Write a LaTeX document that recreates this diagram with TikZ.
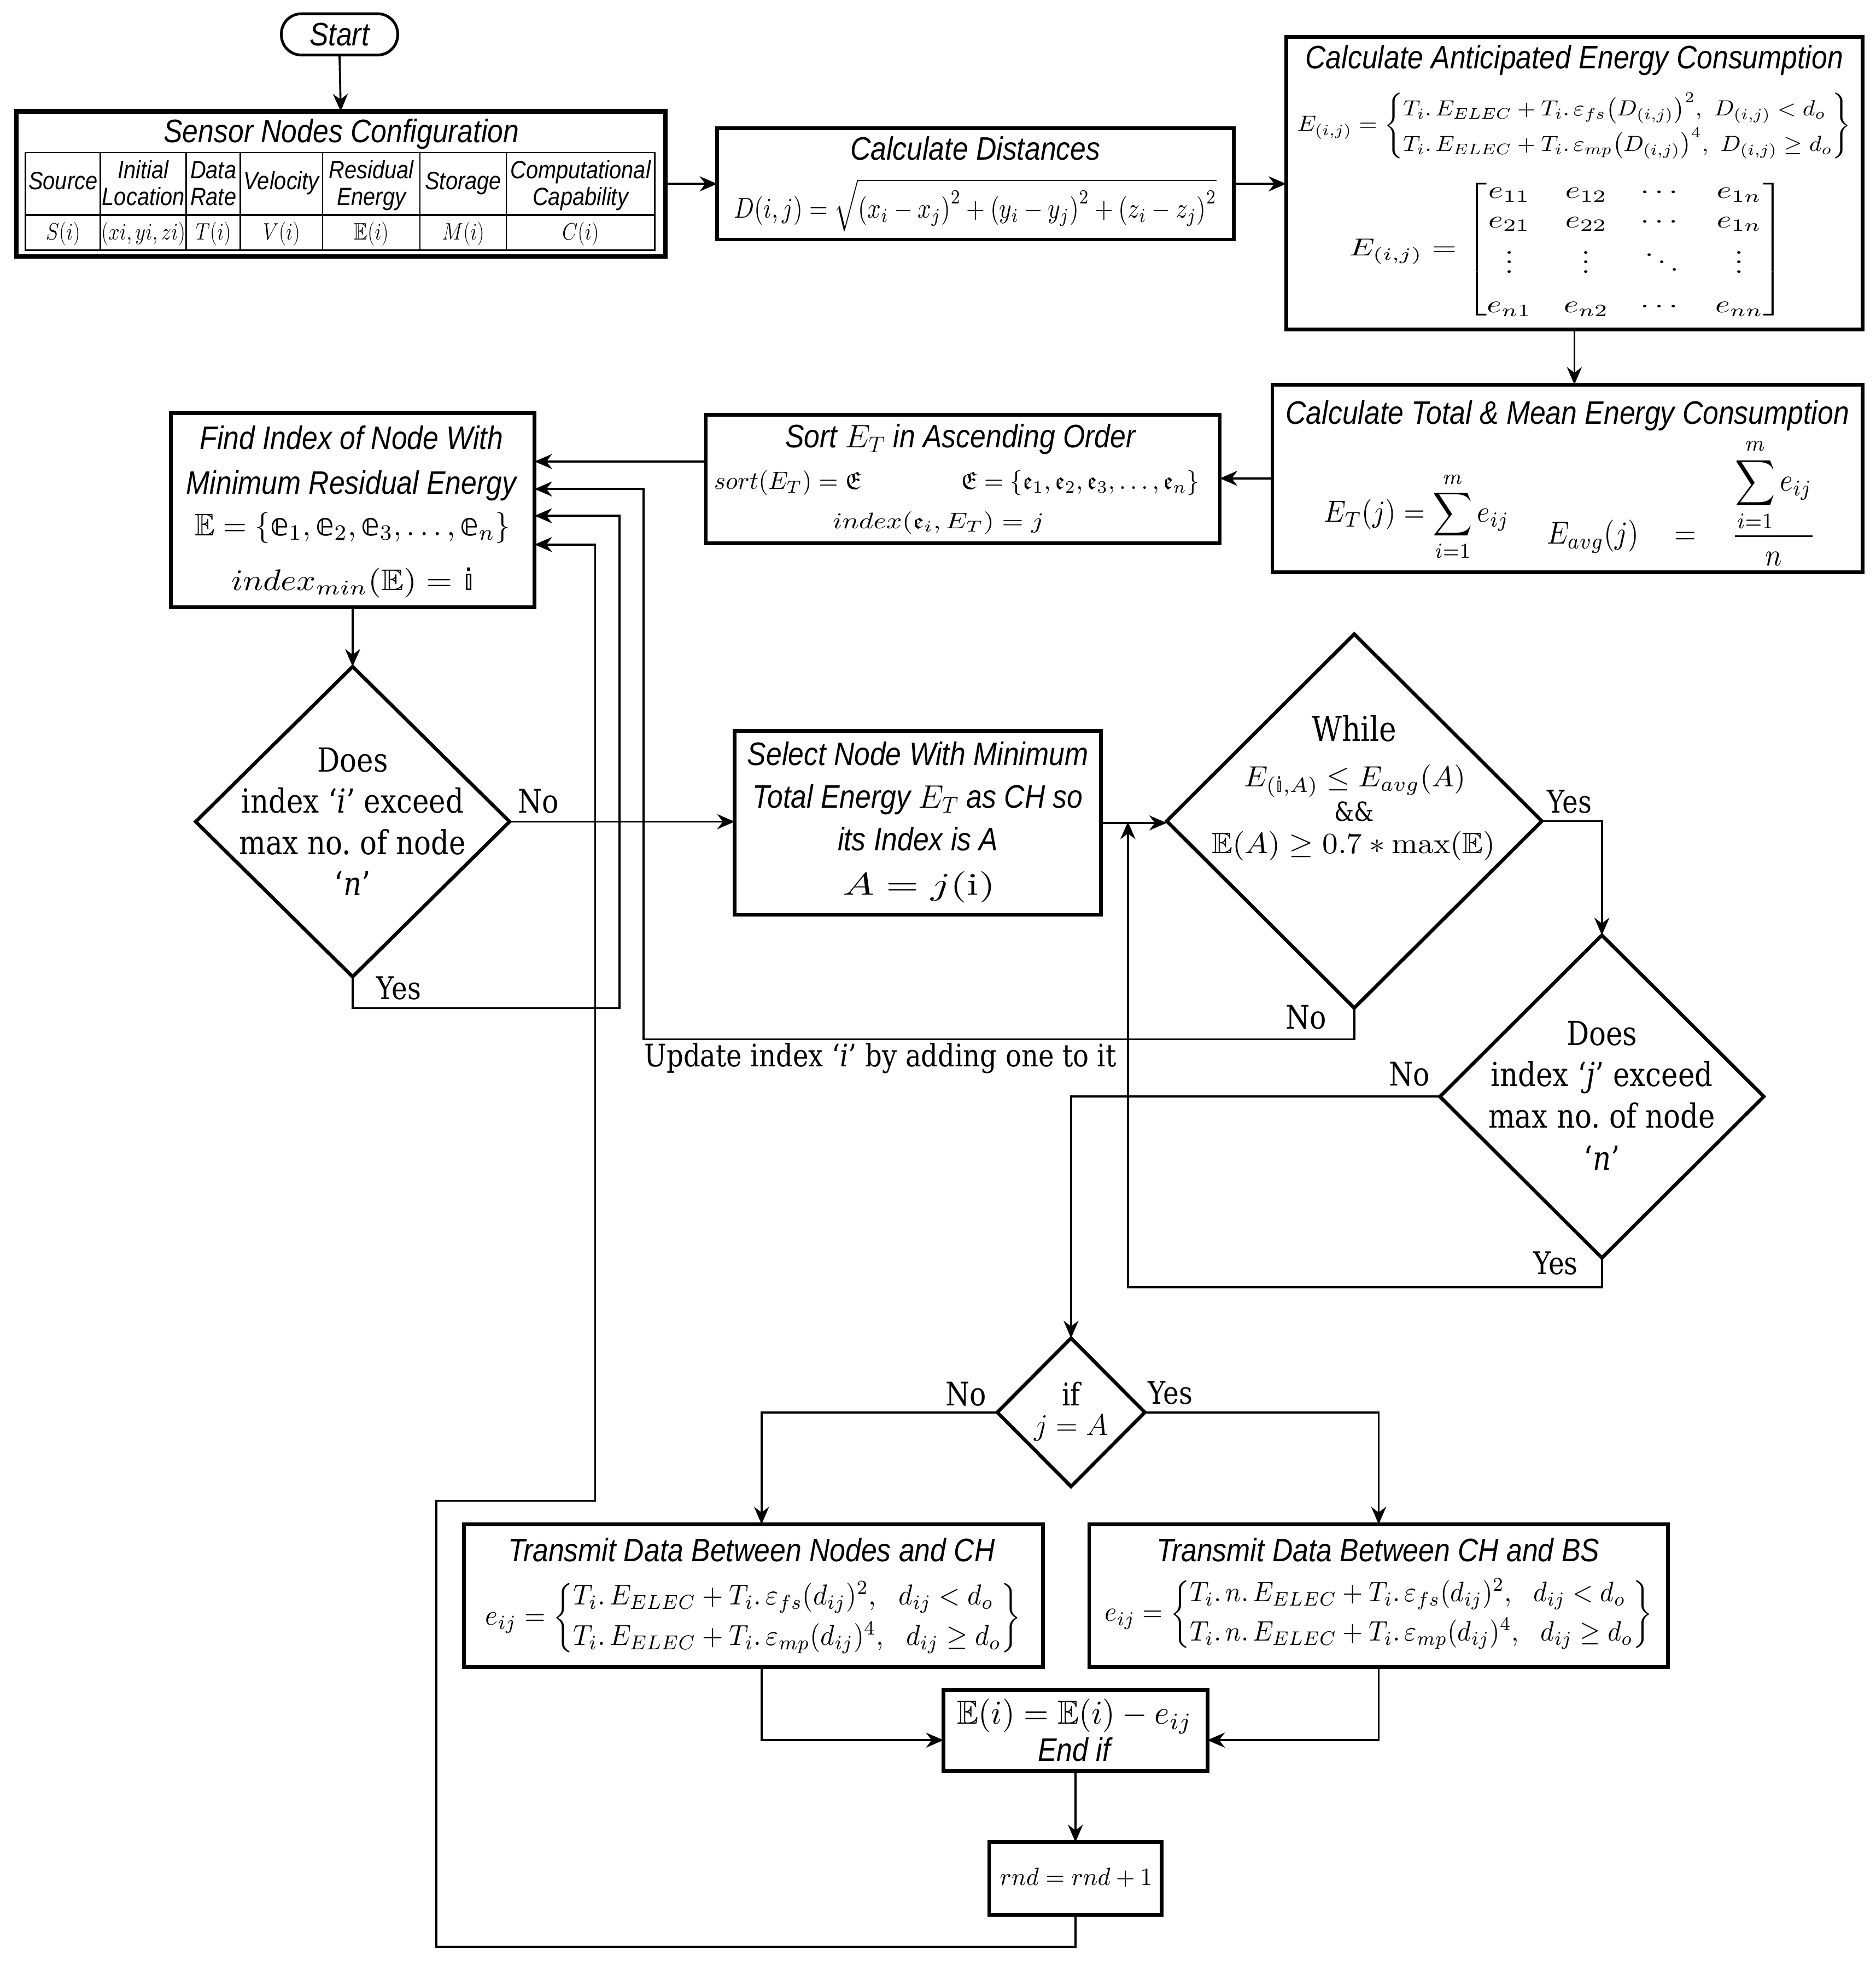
\documentclass[tikz,border=0pt]{standalone}
\usepackage{fix-cm}
\usepackage{amsmath,amssymb}
\usepackage{graphicx}
\usepackage{fontspec}
\newfontfamily\sff{Liberation Sans}[FakeStretch=0.87]
\newfontfamily\srff{DejaVu Serif}[FakeStretch=0.85, Ligatures=TeX]
\newfontfamily\dvs{DejaVu Sans}
\usetikzlibrary{shapes.geometric,arrows.meta,calc}
\newcommand{\dse}{\text{\dvs\char"1D556}}
\newcommand{\dsi}{\text{\dvs\char"1D55A}}
\newcommand{\fx}[3]{\resizebox*{#1pt}{#2pt}{$\displaystyle #3$}}
\tikzset{
  boxs/.style={draw, line width=3pt, inner sep=0pt, outer sep=0pt},
  dia/.style={draw, diamond, line width=2.8pt, inner sep=0pt, outer sep=0pt},
  conn/.style={line width=1.6pt},
  arr/.style={line width=1.6pt, -{Stealth[length=14pt,width=12pt]}},
  ttl/.style={inner sep=0pt, anchor=base, font=\fontsize{26}{30}\selectfont\sff\itshape},
  thd/.style={inner sep=0pt, anchor=base, font=\fontsize{20}{22}\selectfont\sff\itshape},
  tval/.style={inner sep=0pt, font=\fontsize{19}{22}\selectfont},
  srf/.style={inner sep=0pt, anchor=base, font=\fontsize{26.5}{30}\selectfont\srff},
  lbl/.style={inner sep=0pt, anchor=base, font=\fontsize{26}{30}\selectfont\srff},
  fml/.style={inner sep=0pt},
}
\begin{document}
\begin{tikzpicture}[x=1pt,y=-1pt]
\useasboundingbox (0,0) rectangle (1500,1568);
\fill[white] (0,0) rectangle (1500,1568);

% ---------- Start
\node[draw, line width=2.2pt, rounded corners=16pt, minimum width=93pt, minimum height=33pt,
      inner sep=0pt, outer sep=0pt, font=\fontsize{26}{30}\selectfont\sff\itshape] (start) at (271.5,27.5) {Start};

% ---------- Sensor nodes configuration
\node[boxs, line width=3.6pt, minimum width=519pt, minimum height=116pt] (sensor) at (272.5,147) {};
\node[ttl] (sensorT) at (273,114) {Sensor Nodes Configuration};
\draw[line width=1.2pt] (20.4,122) rectangle (523.6,200);
\draw[line width=1.8pt] (20.4,172) -- (523.6,172);
\foreach \xx in {80.3,148.9,192.2,258,335.9,404.8} \draw[line width=1.1pt] (\xx,122) -- (\xx,200);
\node[thd] (h1) at (50.4,151.4) {Source};
\node[thd] (h4) at (225.1,151.4) {Velocity};
\node[thd] (h6) at (370.4,151.4) {Storage};
\foreach \n/\xx/\la/\lb in {h2/114.6/Initial/Location, h3/170.6/Data/Rate, h5/297/Residual/Energy, h7/464.2/Computational/Capability}{
  \node[thd] (\n-a) at (\xx,142.6) {\la};
  \node[thd] (\n-b) at (\xx,164) {\lb};
}
\foreach \n/\xx/\vv in {v1/50.4/{S(i)}, v2/114.6/{(xi,yi,zi)}, v3/170.6/{T(i)}, v4/225.1/{V(i)}, v5/297/{\mathbb{E}(i)}, v6/370.4/{M(i)}, v7/464.2/{C(i)}}{
  \node[tval] (\n) at (\xx,187) {\scalebox{0.85}[1]{$\vv$}};
}

% ---------- Calculate distances
\node[boxs, minimum width=413pt, minimum height=89pt] (dist) at (780,147) {};
\node[ttl] (distT) at (780,128) {Calculate Distances};
\node[fml] (distF) at (780,164) {\fx{386}{42}{D(i,j)=\sqrt{\left(x_i-x_j\right)^2+\left(y_i-y_j\right)^2+\left(z_i-z_j\right)^2}}};

% ---------- Anticipated energy
\node[boxs, minimum width=461pt, minimum height=234pt] (antic) at (1259,146.5) {};
\node[ttl] (anticT) at (1259,55) {Calculate Anticipated Energy Consumption};
\node[fml] (anticF) at (1259,100.5) {\fx{443}{53}{E_{(i,j)}=\left\{\begin{array}{@{}l@{}}T_i.\,E_{ELEC}+T_i.\,\varepsilon_{fs}\big(D_{(i,j)}\big)^2,\ D_{(i,j)}<d_o\\[2pt] T_i.\,E_{ELEC}+T_i.\,\varepsilon_{mp}\big(D_{(i,j)}\big)^4,\ D_{(i,j)}\geq d_o\end{array}\right\}}};
\node[fml] (anticM) at (1253,199.5) {\fx{348}{115}{E_{(i,j)}=\begin{bmatrix}e_{11}&e_{12}&\cdots&e_{1n}\\e_{21}&e_{22}&\cdots&e_{1n}\\\vdots&\vdots&\ddots&\vdots\\[4pt]e_{n1}&e_{n2}&\cdots&e_{nn}\end{bmatrix}}};

% ---------- Total & mean
\node[boxs, minimum width=472pt, minimum height=150pt] (total) at (1253.5,382.5) {};
\node[ttl] (totalT) at (1253.5,339) {Calculate Total \& Mean Energy Consumption};
\node[fml] (totalF1) at (1133,413) {\fx{148}{71.5}{E_T(j)=\sum_{i=1}^{m}e_{ij}}};
\node[fml] (totalF2) at (1344.5,401.5) {\fx{215}{102}{E_{avg}(j)\quad=\quad\frac{\displaystyle\sum_{i=1}^{m}e_{ij}}{n}}};

% ---------- Sort
\node[boxs, minimum width=411pt, minimum height=103pt] (sort) at (770,383) {};
\node[ttl] (sortT) at (768,358) {Sort $E_T$ in Ascending Order};
\node[fml] (sortF1) at (765,386) {\fx{388}{20}{sort(E_T)=\mathfrak{E}\qquad\qquad\mathfrak{E}=\{\mathfrak{e}_1,\mathfrak{e}_2,\mathfrak{e}_3,\dots,\mathfrak{e}_n\}}};
\node[fml] (sortF2) at (750.5,418) {\fx{169}{18}{index(\mathfrak{e}_i,E_T)=j}};

% ---------- Find index
\node[boxs, minimum width=291pt, minimum height=155pt] (find) at (282,408) {};
\node[ttl] (findT1) at (281,359) {Find Index of Node With};
\node[ttl] (findT2) at (281,395) {Minimum Residual Energy};
\node[fml] (findF1) at (282,422) {\fx{252}{25}{\mathbb{E}=\{\dse_1,\dse_2,\dse_3,\dots,\dse_n\}}};
\node[fml] (findF2) at (282,466) {\fx{194}{24}{index_{min}(\mathbb{E})=\dsi}};

% ---------- Decision 1
\node[dia, minimum width=251pt, minimum height=248pt] (d1) at (282,657) {};
\node[srf] (d1a) at (282,617) {Does};
\node[srf] (d1b) at (282,650) {index `\textit{i}' exceed};
\node[srf] (d1c) at (282,683) {max no.\ of node};
\node[srf] (d1d) at (282,716) {`\textit{n}'};

% ---------- Select node
\node[boxs, minimum width=293pt, minimum height=147pt] (select) at (734,658) {};
\node[ttl] (selT1) at (734,612) {Select Node With Minimum};
\node[ttl] (selT2) at (734,646) {Total Energy $E_T$ as CH so};
\node[ttl] (selT3) at (734,680) {its Index is A};
\node[fml] (selF) at (735,709.5) {\fx{122}{25}{A=j(\mathrm{i})}};

% ---------- While
\node[dia, minimum width=300pt, minimum height=299pt] (while) at (1083,656.5) {};
\node[srf, font=\fontsize{27.5}{30}\selectfont\srff] (whileT) at (1083,592.5) {While};
\node[fml] (whileF1) at (1083.5,624.5) {\fx{177}{26}{E_{(\dsi,A)}\leq E_{avg}(A)}};
\node[srf, font=\fontsize{21}{24}\selectfont\srff] (whileAnd) at (1083,656.5) {\&\&};
\node[fml] (whileF3) at (1082.5,676.5) {\fx{227}{23.4}{\mathbb{E}(A)\geq 0.7\ast\max(\mathbb{E})}};

% ---------- Decision j
\node[dia, minimum width=259pt, minimum height=258pt] (d3) at (1281,876.8) {};
\node[srf] (d3a) at (1281,835.7) {Does};
\node[srf] (d3b) at (1281,868.8) {index `\textit{j}' exceed};
\node[srf] (d3c) at (1281,902) {max no.\ of node};
\node[srf] (d3d) at (1281,935.3) {`\textit{n}'};

% ---------- if
\node[dia, minimum width=118pt, minimum height=118.6pt] (dif) at (856.5,1129.3) {};
\node[srf, font=\fontsize{25}{28}\selectfont\srff] (difa) at (856.5,1124) {if};
\node[srf, font=\fontsize{24}{28}\selectfont] (difb) at (856.5,1147.6) {$j=A$};

% ---------- Transmit boxes
\node[boxs, minimum width=463pt, minimum height=114pt] (trans1) at (602.5,1275.8) {};
\node[ttl] (tr1T) at (601,1248.5) {Transmit Data Between Nodes and CH};
\node[fml] (tr1F) at (602.4,1293.7) {\fx{428.5}{60}{e_{ij}=\left\{\begin{array}{@{}l@{}}T_i.\,E_{ELEC}+T_i.\,\varepsilon_{fs}(d_{ij})^2,\ \ d_{ij}<d_o\\[2pt] T_i.\,E_{ELEC}+T_i.\,\varepsilon_{mp}(d_{ij})^4,\ \ d_{ij}\geq d_o\end{array}\right\}}};
\node[boxs, minimum width=463pt, minimum height=114pt] (trans2) at (1102.5,1275.8) {};
\node[ttl] (tr2T) at (1102,1248.5) {Transmit Data Between CH and BS};
\node[fml] (tr2F) at (1102.5,1290.8) {\fx{438}{58.4}{e_{ij}=\left\{\begin{array}{@{}l@{}}T_i.\,n.\,E_{ELEC}+T_i.\,\varepsilon_{fs}(d_{ij})^2,\ \ d_{ij}<d_o\\[2pt] T_i.\,n.\,E_{ELEC}+T_i.\,\varepsilon_{mp}(d_{ij})^4,\ \ d_{ij}\geq d_o\end{array}\right\}}};

% ---------- Update and rnd
\node[boxs, minimum width=211pt, minimum height=65pt] (upd) at (860,1383.7) {};
\node[fml] (updF) at (859.5,1372.4) {\fx{188}{27.7}{\mathbb{E}(i)=\mathbb{E}(i)-e_{ij}}};
\node[ttl] (updT) at (859,1408.2) {End if};
\node[boxs, minimum width=138pt, minimum height=58pt] (rnd) at (860,1502) {};
\node[fml] (rndF) at (860.6,1501.3) {\fx{122}{15.5}{rnd=rnd+1}};

% ---------- Labels
\node[lbl] (lNo1) at (430.5,650) {No};
\node[lbl, font=\fontsize{25}{30}\selectfont\srff] (lYes1) at (319,799) {Yes};
\node[lbl, font=\fontsize{25}{30}\selectfont\srff] (lYes2) at (1255,650) {Yes};
\node[lbl] (lNo2) at (1044.5,822.5) {No};
\node[lbl] (lNo3) at (1127,868) {No};
\node[lbl, font=\fontsize{25}{30}\selectfont\srff] (lYes3) at (1244,1019) {Yes};
\node[lbl] (lNo4) at (772.5,1124) {No};
\node[lbl, font=\fontsize{25}{30}\selectfont\srff] (lYes4) at (936,1122.6) {Yes};
\node[lbl, font=\fontsize{24.8}{28}\selectfont\srff] (lUpd) at (704,853) {Update index `\textit{i}' by adding one to it};

% ---------- Coordinates for loop routing
\coordinate (sw) at ($(sort.west)+(0,-14)$);
\coordinate (lp1) at (514.5,391);
\coordinate (lp2) at (495.5,412.4);
\coordinate (lp3) at (476,435.4);
\coordinate (lpc) at (349,1200);
\coordinate (yj) at (902,657);

% ---------- Connectors
\draw[arr] (start.south) -- (sensor.north);
\draw[arr] (sensor.east) -- (dist.west);
\draw[arr] (dist.east) -- (dist.east -| antic.west);
\draw[arr] (antic.south) -- (antic.south |- total.north);
\draw[arr] (total.west) -- (total.west -| sort.east);
\draw[arr] (sw) -- (sw -| find.east);
\draw[arr] (find.south) -- (d1.north);
\draw[arr] (d1.east) -- (d1.east -| select.west);
\draw[arr] (select.east) -- (select.east -| while.west);
\draw[arr] (while.east) -| (d3.north);
\draw[arr] (while.south) -- ++(0,25) -| (lp1) -- (lp1 -| find.east);
\draw[arr] (d1.south) -- ++(0,25) -| (lp2) -- (lp2 -| find.east);
\draw[arr] (d3.west) -| (dif.north);
\draw[arr] (d3.south) -- ++(0,23.4) -| (yj);
\draw[arr] (dif.west) -| ($(trans1.north)+(6.5,0)$);
\draw[arr] (dif.east) -| (trans2.north);
\draw[arr] ($(trans1.south)+(6.5,0)$) |- ($(upd.west)+(0,7.7)$);
\draw[arr] (trans2.south) |- ($(upd.east)+(0,7.7)$);
\draw[arr] (upd.south) -- (rnd.north);
\draw[arr] (rnd.south) -- ++(0,25.6) -| (lpc) -| (lp3) -- (lp3 -| find.east);
\end{tikzpicture}
\end{document}
